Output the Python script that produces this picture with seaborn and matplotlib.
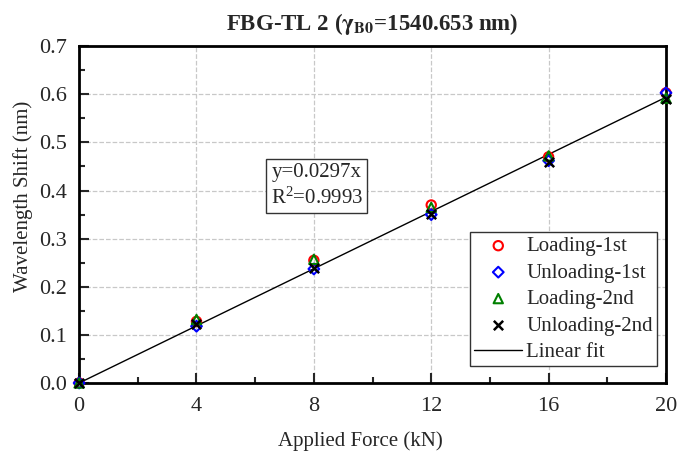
import matplotlib
matplotlib.use("Agg")
import matplotlib.pyplot as plt
import numpy as np
import pandas as pd
import seaborn as sns
from matplotlib.ticker import MultipleLocator

sns.set_theme(style="white")
plt.rcParams['font.family'] = ['Liberation Serif', 'DejaVu Serif']
plt.rcParams['mathtext.fontset'] = 'stix'

force = [0, 4, 8, 12, 16, 20]
loading_1st = [0.0, 0.128, 0.255, 0.370, 0.470, 0.603]
unloading_1st = [0.0, 0.118, 0.237, 0.350, 0.462, 0.603]
loading_2nd = [0.0, 0.132, 0.257, 0.365, 0.472, 0.592]
unloading_2nd = [0.0, 0.122, 0.240, 0.352, 0.460, 0.590]
slope = 0.0297
r2 = 0.9993

series = [
    ("Loading-1st", loading_1st, "o", "red"),
    ("Unloading-1st", unloading_1st, "D", "blue"),
    ("Loading-2nd", loading_2nd, "^", "green"),
    ("Unloading-2nd", unloading_2nd, "x", "black"),
]

fig, ax = plt.subplots(figsize=(6.88, 4.62), dpi=100)
fig.subplots_adjust(left=0.115, right=0.968, top=0.900, bottom=0.171)

for name, vals, marker, color in series:
    df = pd.DataFrame({"force": force, "shift": vals})
    if marker == "x":
        sns.scatterplot(data=df, x="force", y="shift", marker="x", color=color,
                        s=45, linewidth=1.8, label=name, ax=ax, zorder=3, clip_on=False)
    else:
        sns.scatterplot(data=df, x="force", y="shift", marker=marker, s=45 if marker != "D" else 30,
                        facecolor="none", edgecolor=color, linewidth=1.5,
                        label=name, ax=ax, zorder=3, clip_on=False)

fit_x = np.array([0, 20])
fit = pd.DataFrame({"force": fit_x, "shift": slope * fit_x})
sns.lineplot(data=fit, x="force", y="shift", color="black", linewidth=1,
             label="Linear fit", ax=ax, zorder=2)

ax.set_xlim(0, 20)
ax.set_ylim(0, 0.7)
ax.xaxis.set_major_locator(MultipleLocator(4))
ax.xaxis.set_minor_locator(MultipleLocator(2))
ax.yaxis.set_major_locator(MultipleLocator(0.1))
ax.yaxis.set_minor_locator(MultipleLocator(0.05))
ax.yaxis.set_major_formatter(matplotlib.ticker.FormatStrFormatter("%.1f"))
ax.tick_params(which="major", direction="in", length=7, width=1.5, labelsize=16,
               bottom=True, left=True, top=False, right=False)
ax.tick_params(axis="x", which="major", pad=10)
ax.tick_params(axis="y", which="major", pad=9)
ax.tick_params(which="minor", direction="in", length=4, width=1.5,
               bottom=True, left=True, top=False, right=False)
ax.grid(True, which="major", color="#c8c8c8", linestyle="--", linewidth=0.9)
for sp in ax.spines.values():
    sp.set_color("black")
    sp.set_linewidth(2)

ax.set_xlabel("Applied Force (kN)", fontsize=15)
ax.set_ylabel("Wavelength Shift (nm)", fontsize=15)
ax.xaxis.set_label_coords(0.48, -0.143)
ax.yaxis.set_label_coords(-0.078, 0.555)
ax.set_title(r"FBG-TL 2 ($\mathbf{\gamma_{B0}}$=1540.653 nm)", fontsize=16.5,
             fontweight="bold", pad=12)

ax.text(0.405, 0.585, f"y={slope}x\n$\\mathregular{{R^2}}$={r2}", transform=ax.transAxes,
        fontsize=15, ha="center", va="center", linespacing=1.35,
        bbox=dict(boxstyle="square,pad=0.2", facecolor="white", edgecolor="#333333", linewidth=1))

leg = ax.legend(loc="lower right", fontsize=15, frameon=True, fancybox=False,
                edgecolor="#333333", framealpha=1, handlelength=2.3, handletextpad=0.2,
                borderpad=0.2, labelspacing=0.33, borderaxespad=0,
                bbox_to_anchor=(0.985, 0.05))
leg.get_frame().set_linewidth(1)

fig.savefig("out.png", dpi=100)
